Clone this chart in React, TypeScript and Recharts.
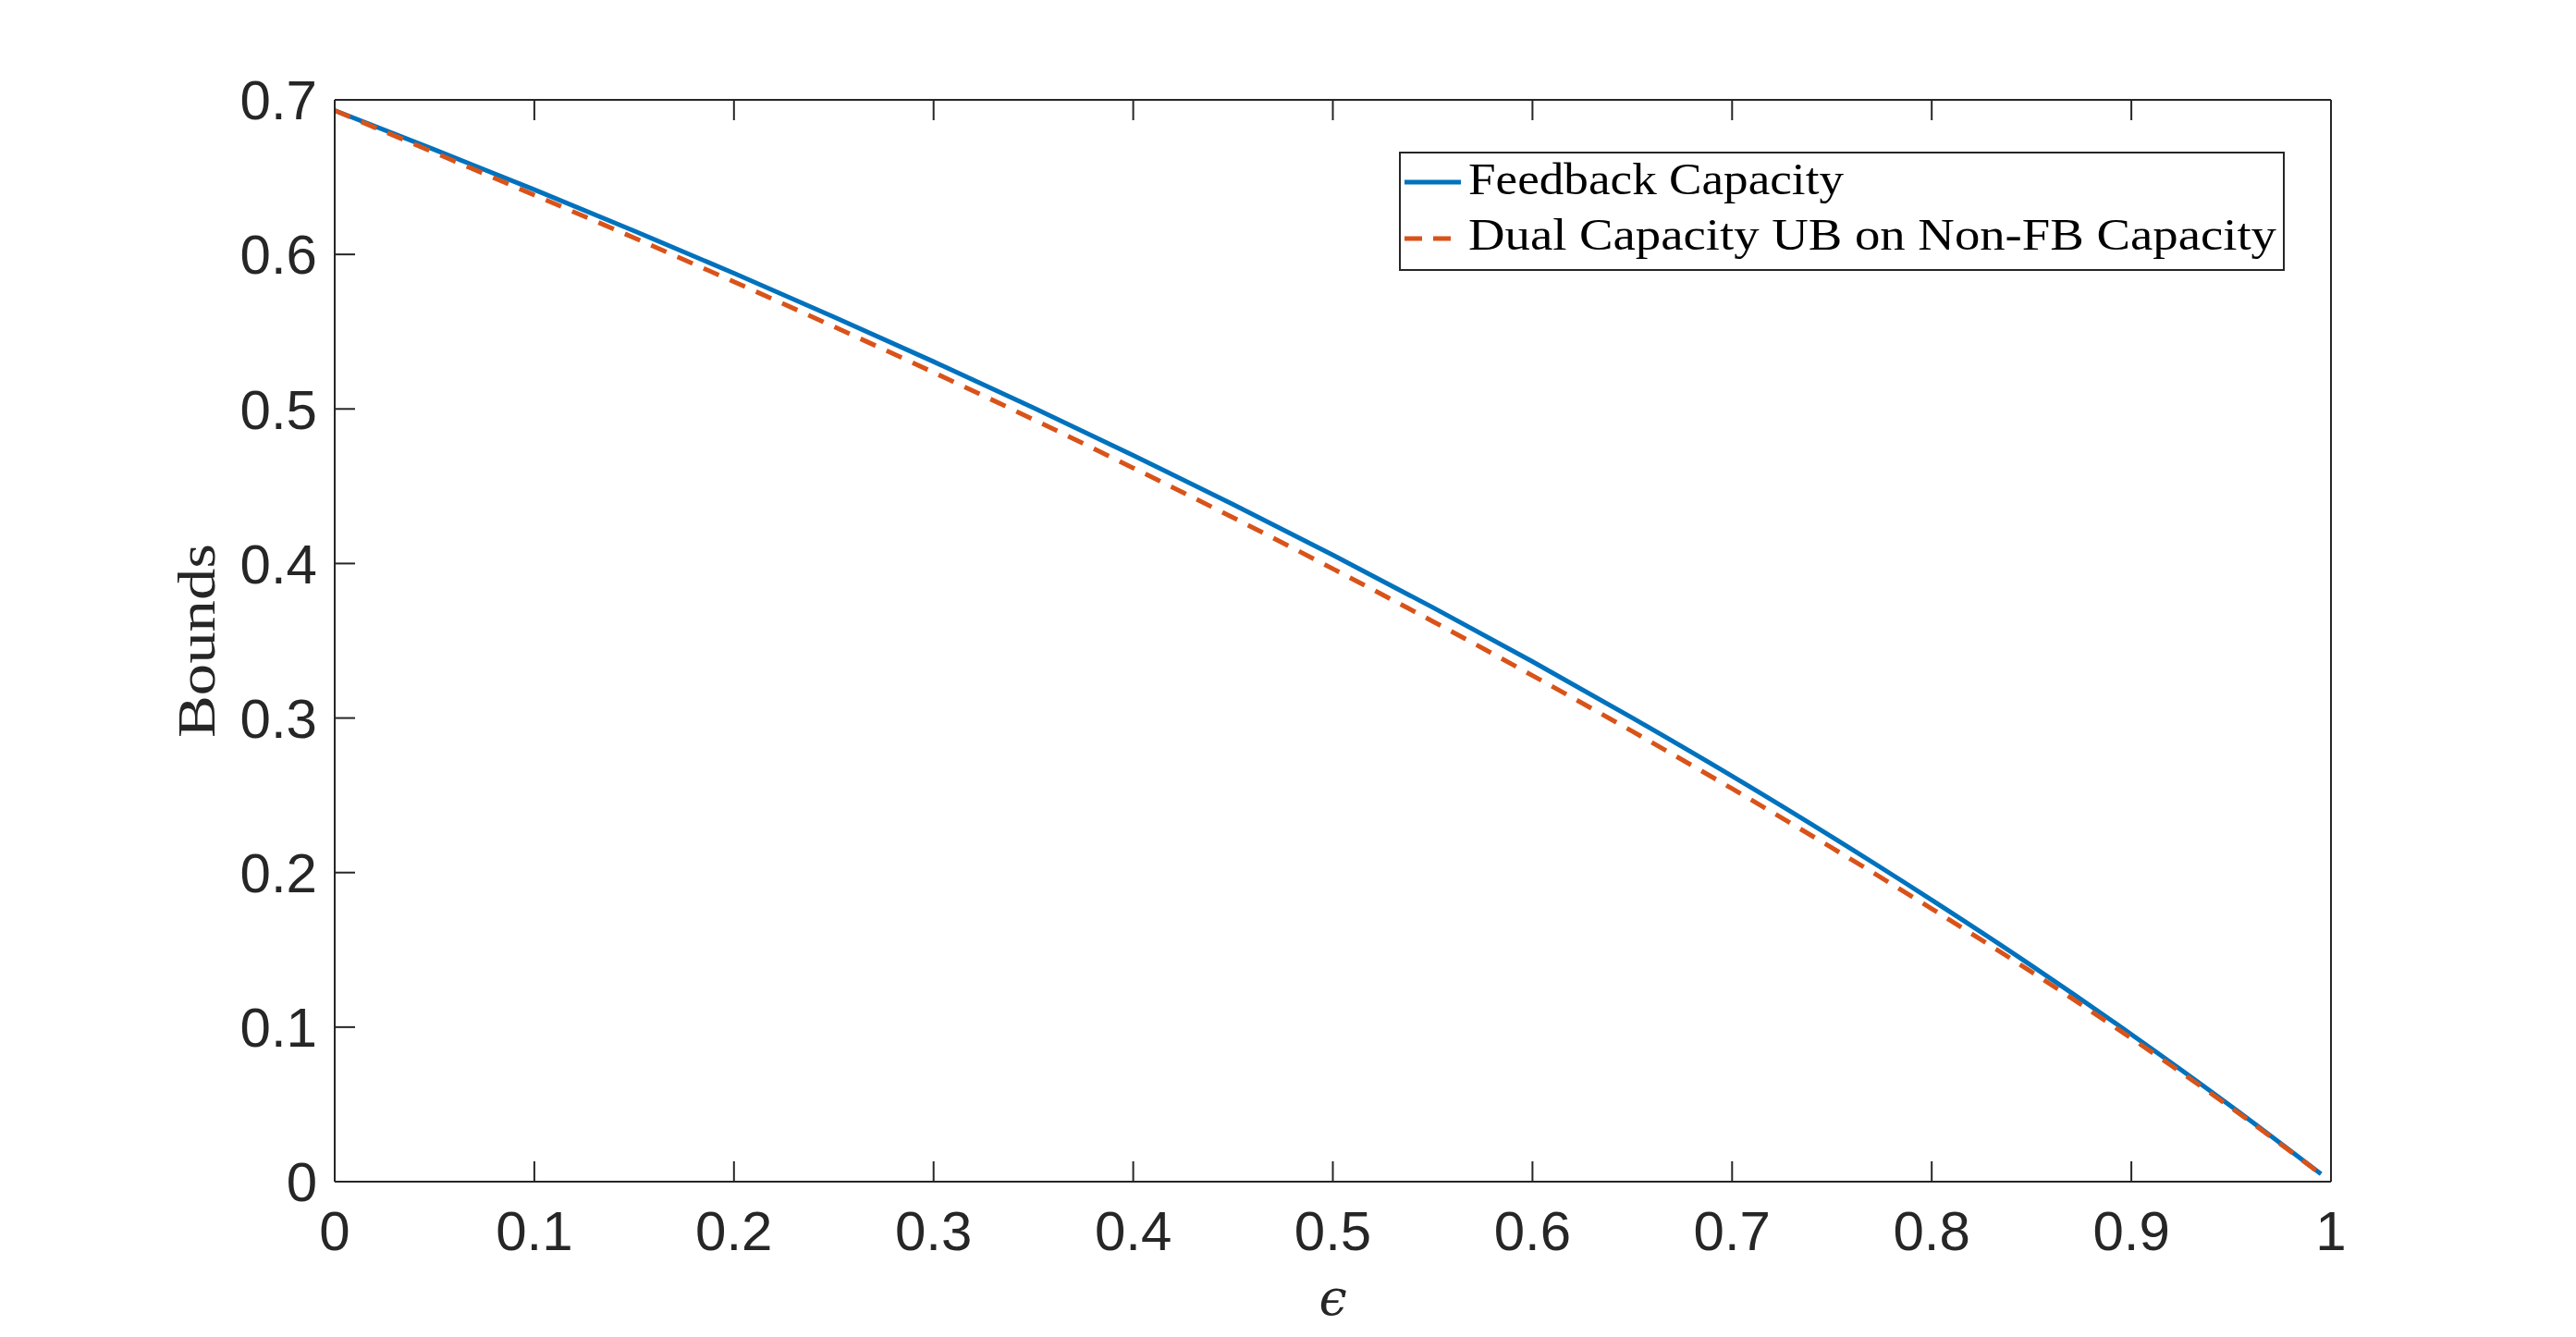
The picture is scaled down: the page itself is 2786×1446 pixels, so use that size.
import React from 'react';
import { LineChart, Line, XAxis, YAxis, Legend } from 'recharts';

// epsilon grid (x) and the two curves
const epsilon = [0, 0.05, 0.1, 0.15, 0.2, 0.25, 0.3, 0.35, 0.4, 0.45, 0.5, 0.55, 0.6, 0.65, 0.7, 0.75, 0.8, 0.85, 0.9, 0.95, 0.995];
const feedbackCapacity = [0.6931, 0.6678, 0.6419, 0.6152, 0.5878, 0.5596, 0.5306, 0.5008, 0.47, 0.4383, 0.4055, 0.3716, 0.3365, 0.3001, 0.2624, 0.2231, 0.1823, 0.1398, 0.0953, 0.0488, 0.005];
const dualCapacityUB = [0.6931, 0.6658, 0.6384, 0.6107, 0.5823, 0.5533, 0.5236, 0.4932, 0.4618, 0.4297, 0.3966, 0.3626, 0.3275, 0.2914, 0.2543, 0.216, 0.1766, 0.1357, 0.0928, 0.0478, 0.0048];

const xTicks = [0, 0.1, 0.2, 0.3, 0.4, 0.5, 0.6, 0.7, 0.8, 0.9, 1];
const yTicks = [0, 0.1, 0.2, 0.3, 0.4, 0.5, 0.6, 0.7];

const seriesNames = ['Feedback Capacity', 'Dual Capacity UB on Non-FB Capacity'];

const rows = epsilon.map((e, i) => ({ eps: e, fb: feedbackCapacity[i], dual: dualCapacityUB[i] }));

const AXIS = '#262626';
const SANS = "'Liberation Sans', Arial, Helvetica, sans-serif";
const SERIF = "'Liberation Serif', 'DejaVu Serif', serif";

const tickStyle = { fill: AXIS, fontSize: 60, fontFamily: SANS };

// draws nothing, but keeps the inward tick marks on the top / right axes
const NoLabel = () => <g />;

const LegendBox = ({ payload }: any) => {
  const textWidths = [406, 874];
  const items = [...(payload || [])].sort(
    (a: any, b: any) => seriesNames.indexOf(a.value) - seriesNames.indexOf(b.value)
  );
  return (
    <svg width={958} height={129} style={{ display: 'block' }}>
      <rect x={1} y={1} width={956} height={127} fill="#fff" stroke={AXIS} strokeWidth={2} />
      {items.map((entry: any, i: number) => {
        const lineY = 33 + i * 61;
        const baseY = 46 + i * 60;
        const dashed = i === 1;
        return (
          <g key={`leg-${i}`}>
            <line
              x1={6}
              x2={67}
              y1={lineY}
              y2={lineY}
              stroke={entry.color}
              strokeWidth={5}
              strokeDasharray={dashed ? '19 12' : undefined}
            />
            <text
              x={75}
              y={baseY}
              fontFamily={SERIF}
              fontSize={49}
              fill="#000"
              textLength={textWidths[i]}
              lengthAdjust="spacingAndGlyphs"
            >
              {entry.value}
            </text>
          </g>
        );
      })}
    </svg>
  );
};

const YLabel = ({ viewBox }: any) => {
  const cx = viewBox.x + 20;
  const cy = viewBox.y + viewBox.height / 2;
  return (
    <text
      x={cx}
      y={cy}
      transform={`rotate(-90, ${cx}, ${cy})`}
      textAnchor="middle"
      fontFamily={SERIF}
      fontSize={57}
      fill={AXIS}
      textLength={210}
      lengthAdjust="spacingAndGlyphs"
    >
      Bounds
    </text>
  );
};

const XLabel = ({ viewBox }: any) => (
  <text
    x={viewBox.x + viewBox.width / 2}
    y={viewBox.y + 144}
    textAnchor="middle"
    fontFamily="'DejaVu Serif', 'Liberation Serif', serif"
    fontStyle="italic"
    fontSize={54}
    fill={AXIS}
  >
    ϵ
  </text>
);

export default function App() {
  return (
    <div style={{ position: 'absolute', left: 0, top: 0, width: 2786, height: 1446, background: '#fff' }}>
      <LineChart width={2786} height={1446} data={rows} margin={{ top: 107, right: 264, bottom: 48, left: 212 }}>
        <XAxis
          dataKey="eps"
          type="number"
          domain={[0, 1]}
          ticks={xTicks}
          interval={0}
          height={120}
          tickSize={-22}
          tickMargin={53}
          tick={tickStyle}
          stroke={AXIS}
          strokeWidth={2}
          label={<XLabel />}
        />
        <XAxis
          xAxisId="top"
          orientation="top"
          dataKey="eps"
          type="number"
          domain={[0, 1]}
          ticks={xTicks}
          interval={0}
          height={1}
          tickSize={-22}
          tick={<NoLabel />}
          stroke={AXIS}
          strokeWidth={2}
        />
        <YAxis
          type="number"
          domain={[0, 0.7]}
          ticks={yTicks}
          interval={0}
          width={150}
          tickSize={-22}
          tickMargin={41}
          tick={tickStyle}
          stroke={AXIS}
          strokeWidth={2}
          label={<YLabel />}
        />
        <YAxis
          yAxisId="right"
          orientation="right"
          type="number"
          domain={[0, 0.7]}
          ticks={yTicks}
          interval={0}
          width={1}
          tickSize={-22}
          tick={<NoLabel />}
          stroke={AXIS}
          strokeWidth={2}
        />
        <Legend
          layout="horizontal"
          verticalAlign="middle"
          align="center"
          content={<LegendBox />}
          wrapperStyle={{ left: 1513, top: 164, width: 958, height: 129 }}
        />
        <Line
          type="monotone"
          dataKey="fb"
          name={seriesNames[0]}
          stroke="#0072BD"
          strokeWidth={5}
          dot={false}
          activeDot={false}
          isAnimationActive={false}
        />
        <Line
          type="monotone"
          dataKey="dual"
          name={seriesNames[1]}
          stroke="#D95319"
          strokeWidth={5}
          strokeDasharray="18 13"
          dot={false}
          activeDot={false}
          isAnimationActive={false}
        />
      </LineChart>
    </div>
  );
}
